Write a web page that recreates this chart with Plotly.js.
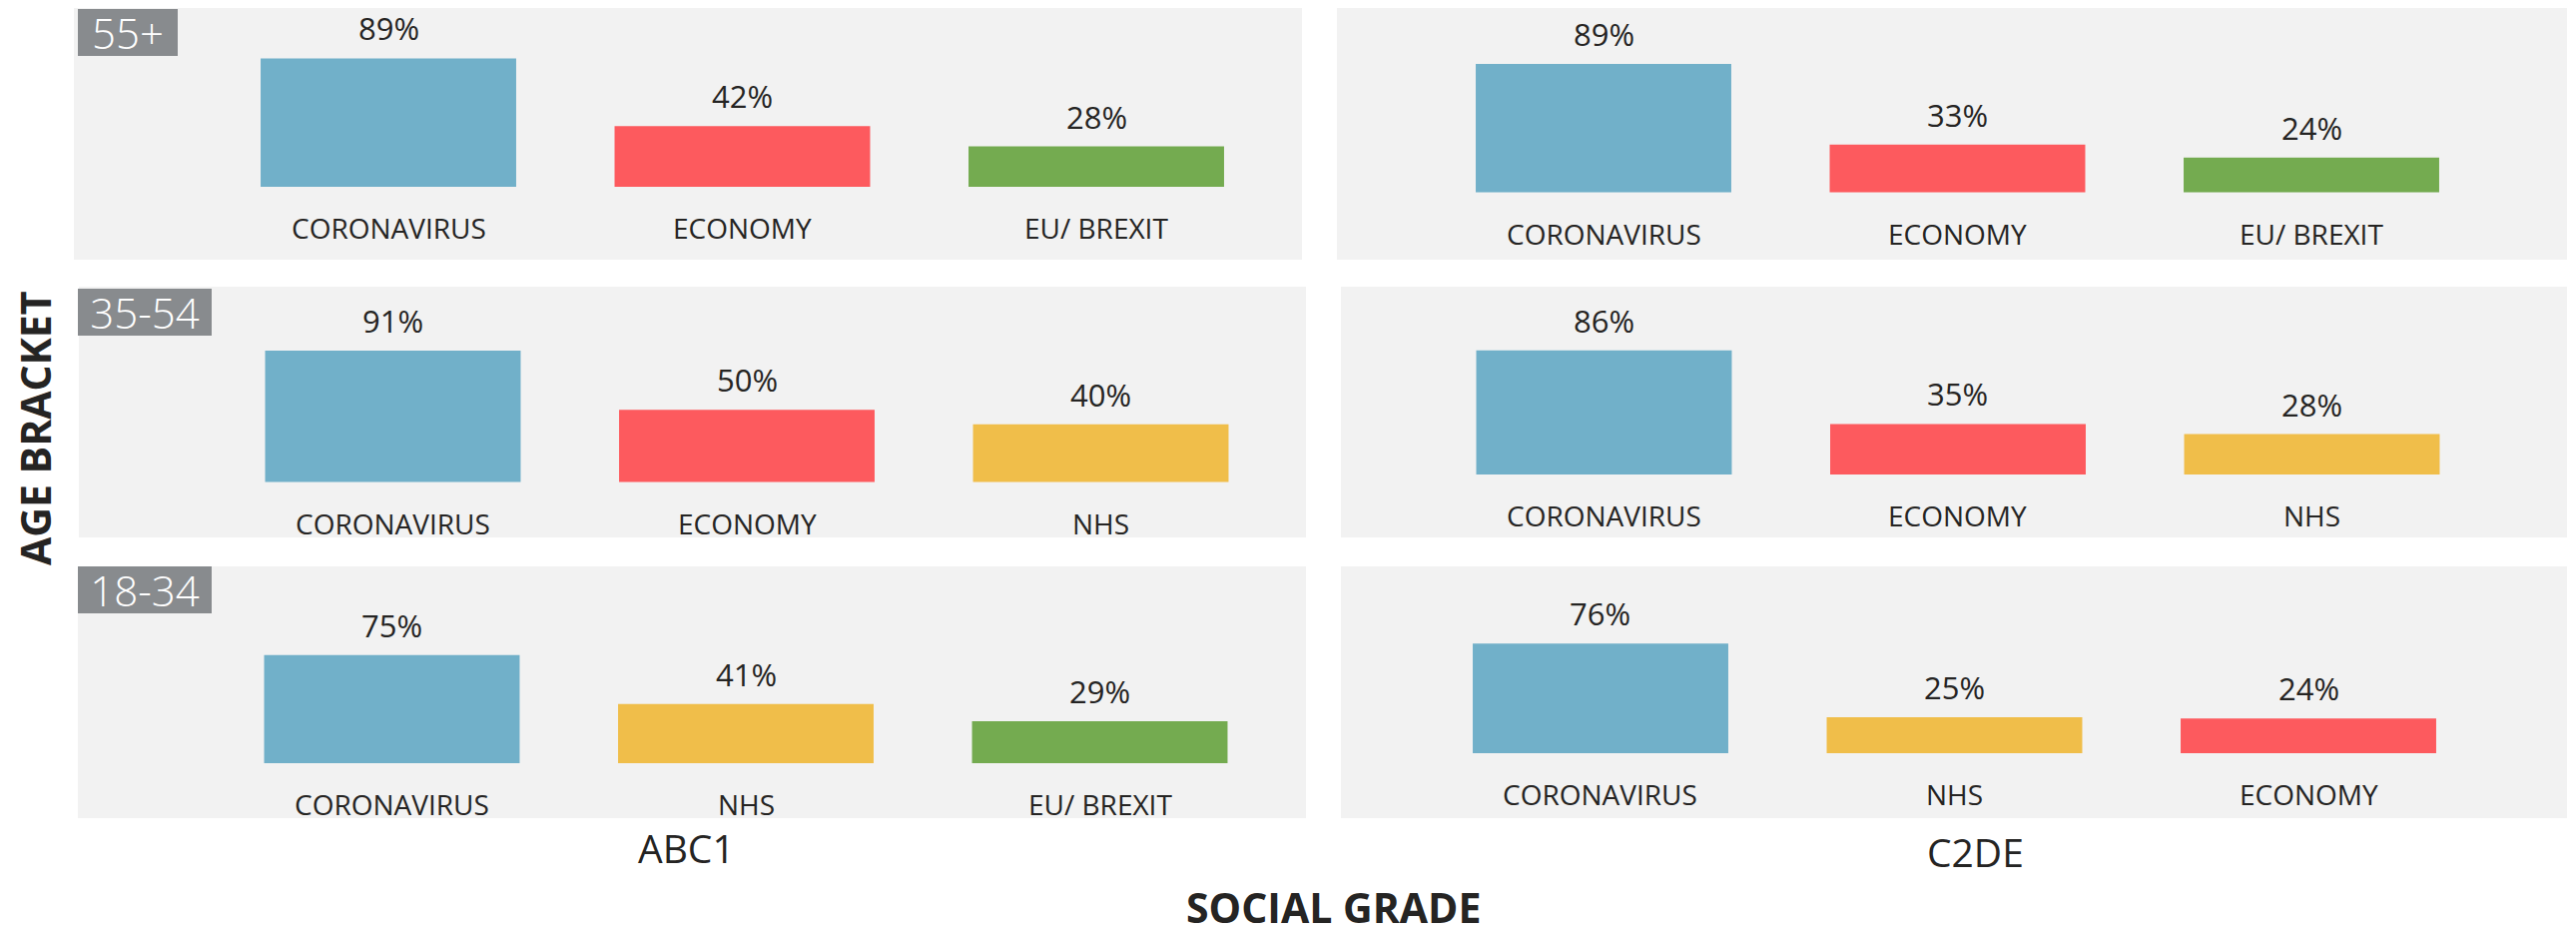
<!DOCTYPE html>
<html>
<head>
<meta charset="utf-8">
<script src="https://cdn.plot.ly/plotly-3.0.1.min.js"></script>
<style>
  html, body { margin: 0; padding: 0; background: #ffffff; }
  #chart { width: 2580px; height: 938px; }
</style>
</head>
<body>
<div id="chart"></div>
<script>
// ---------------- DATA ----------------
const ageBrackets = ['55+', '35-54', '18-34'];
const socialGrades = ['ABC1', 'C2DE'];

const abc1_55_categories = ['CORONAVIRUS', 'ECONOMY', 'EU/ BREXIT'];
const abc1_55_values     = [89, 42, 28];
const c2de_55_categories = ['CORONAVIRUS', 'ECONOMY', 'EU/ BREXIT'];
const c2de_55_values     = [89, 33, 24];

const abc1_35_categories = ['CORONAVIRUS', 'ECONOMY', 'NHS'];
const abc1_35_values     = [91, 50, 40];
const c2de_35_categories = ['CORONAVIRUS', 'ECONOMY', 'NHS'];
const c2de_35_values     = [86, 35, 28];

const abc1_18_categories = ['CORONAVIRUS', 'NHS', 'EU/ BREXIT'];
const abc1_18_values     = [75, 41, 29];
const c2de_18_categories = ['CORONAVIRUS', 'NHS', 'ECONOMY'];
const c2de_18_values     = [76, 25, 24];

const xAxisTitle = 'SOCIAL GRADE';
const yAxisTitle = 'AGE BRACKET';

// ---------------- STYLE / LAYOUT ----------------
const categoryColors = {
  'CORONAVIRUS': '#71B0C9',
  'ECONOMY': '#FD5A5E',
  'EU/ BREXIT': '#74AB50',
  'NHS': '#F0BE4A'
};
const W = 2580, H = 938;
const FONT = 'Open Sans, Noto Sans, sans-serif';
const TEXT = '#252423';
const fx = px => px / W;
const fy = py => 1 - py / H;

const PXPERPCT = 1.444;
const SPACING = 354.5;
const panels = [
  {cats: abc1_55_categories, vals: abc1_55_values, l: 74,   r: 1304, t: 8,   b: 260, base: 187,   c0: 389,   box: ageBrackets[0], boxW: 100, boxT: 9},
  {cats: c2de_55_categories, vals: c2de_55_values, l: 1339, r: 2571, t: 8,   b: 260, base: 192.5, c0: 1606},
  {cats: abc1_35_categories, vals: abc1_35_values, l: 79,   r: 1308, t: 287, b: 538, base: 482.5, c0: 393.5, box: ageBrackets[1], boxW: 134, boxT: 289},
  {cats: c2de_35_categories, vals: c2de_35_values, l: 1343, r: 2571, t: 287, b: 538, base: 475,   c0: 1606.5},
  {cats: abc1_18_categories, vals: abc1_18_values, l: 78,   r: 1308, t: 567, b: 819, base: 764,   c0: 392.5, box: ageBrackets[2], boxW: 134, boxT: 567},
  {cats: c2de_18_categories, vals: c2de_18_values, l: 1343, r: 2571, t: 567, b: 819, base: 754,   c0: 1603}
];

const data = [];
const layout = {
  width: W, height: H,
  margin: {l: 0, r: 0, t: 0, b: 0, pad: 0},
  paper_bgcolor: '#ffffff',
  plot_bgcolor: '#F2F2F2',
  showlegend: false,
  bargap: 0.278,
  font: {family: FONT, color: TEXT},
  annotations: [],
  hovermode: false
};

panels.forEach((p, i) => {
  const n = i + 1;
  const xa = 'x' + (n === 1 ? '' : n);
  const ya = 'y' + (n === 1 ? '' : n);
  const xk = 'xaxis' + (n === 1 ? '' : n);
  const yk = 'yaxis' + (n === 1 ? '' : n);

  data.push({
    type: 'bar',
    x: p.cats,
    y: p.vals,
    xaxis: xa, yaxis: ya,
    marker: {color: p.cats.map(c => categoryColors[c]), line: {width: 0}},
    hoverinfo: 'skip'
  });

  const xr = [(p.l - p.c0) / SPACING, (p.r - p.c0) / SPACING];
  const yr = [-(p.b - p.base) / PXPERPCT, (p.base - p.t) / PXPERPCT];

  layout[xk] = {
    domain: [fx(p.l), fx(p.r)], anchor: ya, type: 'category',
    range: xr, showgrid: false, zeroline: false, showline: false,
    showticklabels: false, ticks: '', fixedrange: true
  };
  layout[yk] = {
    domain: [fy(p.b), fy(p.t)], anchor: xa,
    range: yr, showgrid: false, zeroline: false, showline: false,
    showticklabels: false, ticks: '', fixedrange: true
  };

  p.cats.forEach((c, j) => {
    layout.annotations.push({
      xref: xa, yref: ya, x: c, y: p.vals[j],
      text: p.vals[j] + '%', showarrow: false,
      xanchor: 'center', yanchor: 'middle', yshift: 30,
      font: {family: FONT, size: 31, color: TEXT}
    });
    layout.annotations.push({
      xref: xa, yref: ya, x: c, y: 0,
      text: c, showarrow: false,
      xanchor: 'center', yanchor: 'middle', yshift: -41,
      font: {family: FONT, size: 28, color: TEXT}
    });
  });

  if (p.box) {
    layout.annotations.push({
      xref: 'paper', yref: 'paper',
      x: fx(78), y: fy(p.boxT),
      xanchor: 'left', yanchor: 'top',
      text: p.box, showarrow: false,
      width: p.boxW, height: 47, borderpad: 0, borderwidth: 0,
      bgcolor: '#888B8E', align: 'center', valign: 'middle',
      font: {family: FONT, size: 42, color: '#ffffff', weight: 300}
    });
  }
});

layout.annotations.push({
  xref: 'paper', yref: 'paper', x: fx(687), y: fy(848),
  text: socialGrades[0], showarrow: false, xanchor: 'center', yanchor: 'middle',
  font: {family: FONT, size: 39, color: TEXT}
});
layout.annotations.push({
  xref: 'paper', yref: 'paper', x: fx(1978), y: fy(852),
  text: socialGrades[1], showarrow: false, xanchor: 'center', yanchor: 'middle',
  font: {family: FONT, size: 39, color: TEXT}
});
layout.annotations.push({
  xref: 'paper', yref: 'paper', x: fx(1335), y: 0,
  text: '<b>' + xAxisTitle + '</b>', showarrow: false, xanchor: 'center', yanchor: 'bottom',
  font: {family: FONT, size: 41, color: TEXT}
});
layout.annotations.push({
  xref: 'paper', yref: 'paper', x: fx(35), y: fy(429),
  text: '<b>' + yAxisTitle + '</b>', showarrow: false, textangle: -90,
  xanchor: 'center', yanchor: 'middle',
  font: {family: FONT, size: 41, color: TEXT}
});

Plotly.newPlot('chart', data, layout, {staticPlot: true, displayModeBar: false});
</script>
</body>
</html>
